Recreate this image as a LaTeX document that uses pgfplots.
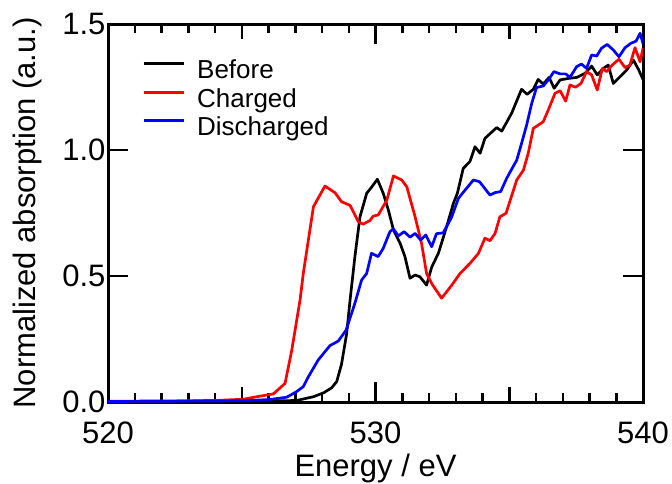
\documentclass[border=0pt]{standalone}
\usepackage{fontspec}
\setmainfont{Liberation Sans}
\usepackage{pgfplots}
\pgfplotsset{compat=1.18}
\newcommand\bigf{\fontsize{31}{36}\selectfont}
\newcommand\legf{\fontsize{26}{31}\selectfont}
\begin{document}
\begin{tikzpicture}
\useasboundingbox (0,0) rectangle (672pt,483pt);
\begin{axis}[
  at={(108pt,81pt)}, anchor=south west,
  scale only axis, width=535pt, height=378pt,
  xmin=520, xmax=540, ymin=0, ymax=1.5,
  xtick={520,530,540}, minor xtick={521,...,539},
  extra x ticks={525,535}, extra x tick labels={},
  extra x tick style={major tick length=15pt},
  ytick={0,0.5,1,1.5},
  tick align=inside,
  major tick length=20pt, minor tick length=9pt,
  every tick/.style={line width=2.5pt, black},
  axis line style={line width=3pt},
  /pgf/number format/assume math mode=true,
  /pgf/number format/1000 sep={},
  tick label style={font=\bigf},
  xticklabel style={anchor=base, yshift=-41pt},
  yticklabel style={anchor=east, xshift=1pt, /pgf/number format/.cd, fixed, fixed zerofill, precision=1},
  label style={font=\bigf},
  xlabel={Energy / eV},
  ylabel={Normalized absorption (a.u.)},
  xlabel style={at={(axis description cs:0.5,-0.1958)}, anchor=base},
  ylabel style={at={(axis description cs:-0.1346,0.5)}, anchor=base},
  legend cell align=left,
  legend image code/.code={\draw[#1, line width=3pt] (0pt,8pt) -- (40pt,8pt);},
  legend style={draw=none, fill=none, font=\legf, at={(axis description cs:0.0635,0.908)}, anchor=north west,
    inner sep=0pt, row sep=2.5pt, column sep=11pt,
    nodes={inner sep=1pt, text height=19pt, text depth=5pt}},
  every axis plot/.append style={line width=2.7pt, line join=round},
]
\addplot[black] coordinates {
(520.0,0.002)(522.0,0.002)(524.0,0.003)(525.0,0.003)(526.0,0.004)(527.05,0.006)(527.68,0.021)(528.05,0.036)(528.36,0.056)(528.55,0.081)(528.73,0.150)(528.92,0.270)(529.05,0.405)(529.23,0.577)(529.42,0.735)(529.67,0.828)(529.85,0.852)(530.07,0.884)(530.29,0.828)(530.48,0.762)(530.67,0.683)(530.92,0.630)(531.10,0.577)(531.29,0.491)(531.48,0.504)(531.66,0.497)(531.91,0.464)(532.10,0.535)(532.35,0.590)(532.66,0.696)(532.91,0.788)(533.06,0.828)(533.28,0.927)(533.53,0.954)(533.72,1.013)(533.91,0.987)(534.09,1.046)(534.53,1.089)(534.72,1.075)(535.09,1.146)(535.46,1.241)(535.67,1.221)(535.90,1.241)(536.08,1.280)(536.27,1.262)(536.49,1.288)(536.68,1.245)(536.90,1.278)(537.21,1.284)(537.52,1.288)(537.83,1.304)(538.08,1.333)(538.29,1.298)(538.52,1.324)(538.70,1.337)(538.89,1.264)(539.14,1.291)(539.39,1.317)(539.64,1.357)(539.83,1.320)(540.0,1.280)
};
\addlegendentry{Before}
\addplot[red] coordinates {
(520.0,0.003)(522.0,0.004)(524.0,0.006)(525.06,0.011)(525.56,0.021)(526.18,0.032)(526.62,0.074)(526.87,0.206)(527.18,0.405)(527.30,0.510)(527.68,0.775)(528.11,0.857)(528.49,0.830)(528.73,0.795)(529.05,0.780)(529.36,0.715)(529.54,0.706)(529.79,0.720)(529.92,0.738)(530.10,0.742)(530.42,0.800)(530.67,0.897)(530.98,0.881)(531.17,0.854)(531.48,0.735)(531.72,0.630)(531.91,0.510)(532.10,0.470)(532.47,0.412)(532.84,0.462)(533.16,0.510)(533.53,0.550)(533.85,0.590)(534.09,0.650)(534.28,0.640)(534.47,0.669)(534.65,0.735)(534.88,0.749)(535.28,0.881)(535.53,0.920)(535.71,0.987)(535.90,1.086)(536.27,1.112)(536.46,1.159)(536.71,1.225)(536.90,1.235)(537.11,1.194)(537.27,1.258)(537.48,1.249)(537.68,1.264)(537.89,1.311)(538.08,1.298)(538.29,1.238)(538.48,1.324)(538.64,1.311)(538.85,1.337)(539.10,1.360)(539.33,1.327)(539.51,1.337)(539.70,1.406)(539.89,1.350)(540.0,1.404)
};
\addlegendentry{Charged}
\addplot[blue] coordinates {
(520.0,0.002)(522.0,0.003)(524.0,0.004)(525.06,0.005)(526.06,0.010)(526.68,0.019)(527.05,0.041)(527.30,0.061)(527.49,0.100)(527.86,0.167)(528.30,0.224)(528.61,0.242)(528.90,0.285)(529.23,0.392)(529.48,0.484)(529.67,0.510)(529.85,0.590)(530.10,0.577)(530.29,0.610)(530.54,0.676)(530.67,0.687)(530.85,0.659)(531.07,0.676)(531.29,0.654)(531.48,0.669)(531.69,0.643)(531.88,0.663)(532.10,0.616)(532.28,0.668)(532.53,0.671)(532.84,0.732)(533.10,0.808)(533.35,0.841)(533.66,0.881)(533.89,0.874)(534.28,0.821)(534.47,0.831)(534.68,0.835)(534.90,0.887)(535.28,0.960)(535.46,1.026)(535.65,1.099)(535.84,1.185)(536.02,1.248)(536.27,1.254)(536.46,1.278)(536.67,1.311)(536.90,1.302)(537.11,1.302)(537.27,1.288)(537.52,1.331)(537.70,1.341)(537.89,1.324)(538.08,1.377)(538.27,1.373)(538.45,1.404)(538.66,1.419)(538.89,1.397)(539.10,1.370)(539.33,1.406)(539.54,1.423)(539.74,1.432)(539.89,1.463)(540.0,1.423)
};
\addlegendentry{Discharged}
\end{axis}
\end{tikzpicture}
\end{document}
